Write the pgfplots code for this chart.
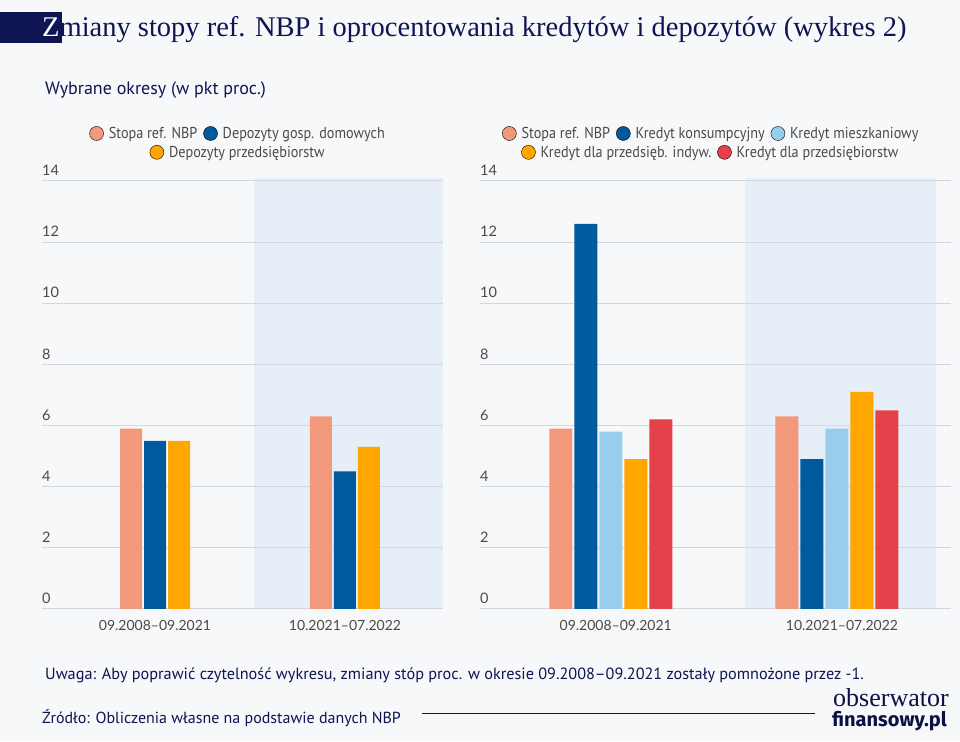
\documentclass[border=0pt]{standalone}
\usepackage{fontspec}
\usepackage{pgfplots}
\pgfplotsset{compat=1.18}
\setmainfont{Lato}
\newfontfamily\titlefont{Liberation Serif}
\newfontfamily\condfont[FakeStretch=0.9]{PT Sans}
\newfontfamily\ptsans{PT Sans}
\newfontfamily\logobold{Fira Sans Bold}

\definecolor{bg}{HTML}{F7F8FA}
\definecolor{navy}{HTML}{0E1552}
\definecolor{shadecol}{HTML}{E6EEF7}
\definecolor{gridcol}{HTML}{D3D7DC}
\definecolor{txtgray}{HTML}{4A4A4A}
\definecolor{salmon}{HTML}{F2997B}
\definecolor{dblue}{HTML}{005A9E}
\definecolor{lblue}{HTML}{98CDEE}
\definecolor{orng}{HTML}{FFA600}
\definecolor{redc}{HTML}{E4414A}

\pgfplotsset{
  dot/.style={legend image code/.code={\fill[##1] (0pt,0pt) circle (7pt);}},
  base/.style={
    scale only axis, height=428pt, ymin=0, ymax=14,
    anchor=south west,
    axis line style={draw=none}, major tick length=0pt,
    ytick={0,2,...,14}, ymajorgrids, grid style={gridcol, line width=1pt},
    xtick={0,1}, xticklabels={09.2008–09.2021,10.2021–07.2022},
    /pgf/number format/assume math mode=true,
    tick label style={font=\fontsize{14.5}{16}\selectfont, text=txtgray},
    yticklabel style={anchor=south west, inner sep=0pt, yshift=5pt},
    xticklabel style={anchor=north, inner sep=0pt, yshift=-11pt,
      font=\fontsize{14}{16}\selectfont},
    clip=false,
  },
  hid/.style={scale only axis, height=428pt, anchor=south west, hide axis,
    xmin=0, xmax=1, ymin=0, ymax=1,
    legend style={draw=none, fill=none, anchor=center,
      font=\condfont\fontsize{15.8}{17}\selectfont, text=txtgray,
      /tikz/every odd column/.append style={column sep=3pt},
      /tikz/every even column/.append style={column sep=4pt}},
    legend columns=-1},
}

\begin{document}
\begin{tikzpicture}
\fill[bg] (0pt,0pt) rectangle (960pt,741pt);

% title
\fill[navy] (0pt,698pt) rectangle (62pt,729pt);
\node[anchor=base west, inner sep=0pt, text=navy, font=\titlefont\fontsize{28.5}{30}\selectfont]
  at (42pt,704pt) {\textcolor{white}{Z}miany stopy ref. NBP i oprocentowania kredytów i depozytów (wykres 2)};
\node[anchor=west, inner sep=0pt, text=navy, font=\ptsans\fontsize{18}{20}\selectfont]
  at (45pt,651pt) {Wybrane okresy (w pkt proc.)};

% shaded periods
\fill[shadecol] (254pt,132pt) rectangle (443pt,563pt);
\fill[shadecol] (745pt,132pt) rectangle (936pt,563pt);

% left chart
\begin{axis}[base, at={(42pt,132pt)}, width=401pt, xmin=-0.595, xmax=1.516,
  ybar, bar width=22pt]
\addplot[fill=salmon, draw=none, bar shift=-24pt] coordinates {(0,5.9) (1,6.3)};
\addplot[fill=dblue, draw=none, bar shift=0pt] coordinates {(0,5.5) (1,4.5)};
\addplot[fill=orng, draw=none, bar shift=24pt] coordinates {(0,5.5) (1,5.3)};
\end{axis}
\begin{axis}[hid, at={(42pt,132pt)}, width=401pt, legend style={at={(0.489,1.111)}}]
\addlegendimage{dot, fill=salmon}
\addlegendentry{Stopa ref. NBP}
\addlegendimage{dot, fill=dblue}
\addlegendentry{Depozyty gosp. domowych}
\end{axis}
\begin{axis}[hid, at={(42pt,132pt)}, width=401pt, legend style={at={(0.489,1.067)}}]
\addlegendimage{dot, fill=orng}
\addlegendentry{Depozyty przedsiębiorstw}
\end{axis}

% right chart
\begin{axis}[base, at={(480pt,132pt)}, width=471pt, xmin=-0.578, xmax=1.504,
  ybar, bar width=23pt, xticklabel style={xshift=5pt}]
\addplot[fill=salmon, draw=none, bar shift=-50pt] coordinates {(0,5.9) (1,6.3)};
\addplot[fill=dblue, draw=none, bar shift=-25pt] coordinates {(0,12.6) (1,4.9)};
\addplot[fill=lblue, draw=none, bar shift=0pt] coordinates {(0,5.8) (1,5.9)};
\addplot[fill=orng, draw=none, bar shift=25pt] coordinates {(0,4.9) (1,7.1)};
\addplot[fill=redc, draw=none, bar shift=50pt] coordinates {(0,6.2) (1,6.5)};
\end{axis}
\begin{axis}[hid, at={(480pt,132pt)}, width=471pt, legend style={at={(0.491,1.111)}}]
\addlegendimage{dot, fill=salmon}
\addlegendentry{Stopa ref. NBP}
\addlegendimage{dot, fill=dblue}
\addlegendentry{Kredyt konsumpcyjny}
\addlegendimage{dot, fill=lblue}
\addlegendentry{Kredyt mieszkaniowy}
\end{axis}
\begin{axis}[hid, at={(480pt,132pt)}, width=471pt, legend style={at={(0.490,1.067)}}]
\addlegendimage{dot, fill=orng}
\addlegendentry{Kredyt dla przedsięb. indyw.}
\addlegendimage{dot, fill=redc}
\addlegendentry{Kredyt dla przedsiębiorstw}
\end{axis}

% footer
\node[anchor=west, inner sep=0pt, text=navy, font=\ptsans\fontsize{16.25}{18}\selectfont]
  at (45pt,66pt) {Uwaga: Aby poprawić czytelność wykresu, zmiany stóp proc. w okresie 09.2008–09.2021 zostały pomnożone przez -1.};
\node[anchor=west, inner sep=0pt, text=navy, font=\ptsans\fontsize{16}{18}\selectfont]
  at (42pt,23pt) {Źródło: Obliczenia własne na podstawie danych NBP};
\draw[navy, line width=0.8pt] (422pt,28pt) -- (815pt,28pt);
\node[anchor=west, inner sep=0pt, text=navy!80!black, font=\titlefont\fontsize{26}{26}\selectfont]
  at (833pt,43pt) {obserwator};
\node[anchor=west, inner sep=0pt, text=navy!80!black, font=\logobold\fontsize{20}{20}\selectfont]
  at (832pt,20pt) {finansowy.pl};

\pgfresetboundingbox
\path[use as bounding box] (0pt,0pt) rectangle (960pt,741pt);
\end{tikzpicture}
\end{document}
